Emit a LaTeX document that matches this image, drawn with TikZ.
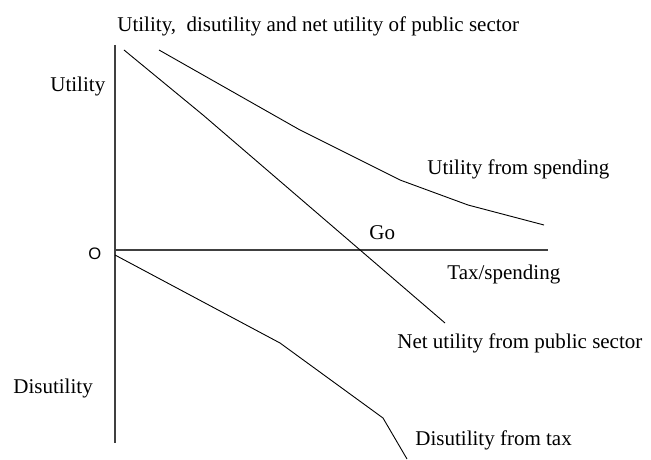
\documentclass[tikz,border=0pt]{standalone}
\usepackage{fontspec}
\setmainfont{Liberation Serif}
\newfontfamily\axisfont{Liberation Sans}
\tikzstyle{axis}=[line width=0.55pt,black!75]
\tikzstyle{curve}=[line width=0.45pt,black]
\tikzstyle{lbl}=[anchor=base west,inner sep=0pt,font=\fontsize{10.5}{12}\selectfont]
\begin{document}
\begin{tikzpicture}[x=0.5pt,y=-0.5pt]
	\useasboundingbox (0,0) rectangle (651,459);
	% axes
	\coordinate (top) at (115,45);
	\coordinate (bot) at (115,443);
	\coordinate (o) at (115,250);
	\coordinate (xend) at (548,250);
	\draw[axis] (top) -- (bot);
	\draw[axis] (o) -- (xend);
	\node[lbl,font=\axisfont\fontsize{8.3}{9}\selectfont] (origin) at (88,259) {O};
	% utility from spending
	\coordinate (u0) at (159,50);
	\coordinate (u1) at (300,130);
	\coordinate (u2) at (400,180);
	\coordinate (u3) at (468,205);
	\coordinate (u4) at (544,225);
	\draw[curve] (u0) -- (u1) -- (u2) -- (u3) -- (u4);
	% net utility
	\coordinate (n0) at (124,50);
	\coordinate (n1) at (203,115);
	\coordinate (n2) at (445,323);
	\draw[curve] (n0) -- (n1) -- (n2);
	% disutility from tax
	\coordinate (d0) at (115,255);
	\coordinate (d1) at (280,343);
	\coordinate (d2) at (383,418);
	\coordinate (d3) at (407,459);
	\draw[curve] (d0) -- (d1) -- (d2) -- (d3);
	% labels
	\node[lbl] (title) at (117,32) {Utility,\ \ disutility and net utility of public sector};
	\node[lbl] (util) at (50,92) {Utility};
	\node[lbl] (disutil) at (13,393) {Disutility};
	\node[lbl] (uspend) at (427,175) {Utility from spending};
	\node[lbl] (go) at (369,240) {Go};
	\node[lbl] (tax) at (447,279) {Tax/spending};
	\node[lbl] (net) at (397,348) {Net utility from public sector};
	\node[lbl] (dtax) at (415,445) {Disutility from tax};
\end{tikzpicture}
\end{document}
